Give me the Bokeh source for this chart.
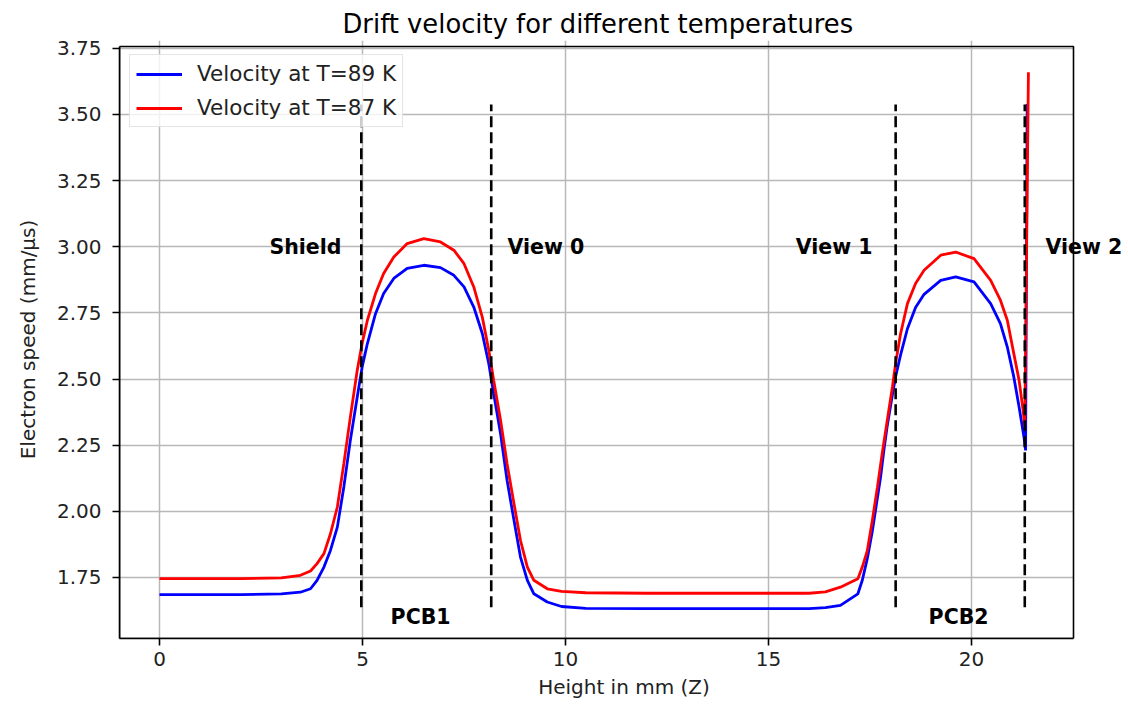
from bokeh.plotting import figure
from bokeh.models import (Range1d, Label, Legend, LegendItem, FixedTicker,
                          PrintfTickFormatter, BoxAnnotation)
from bokeh.embed import file_html
from bokeh.resources import INLINE

# ---------------- data ----------------
z_89 = [0.0, 1.0, 2.0, 3.0, 3.47, 3.72, 3.88, 4.05, 4.21, 4.38, 4.54, 4.70, 4.87, 4.99,
        5.12, 5.32, 5.52, 5.77, 6.10, 6.51, 6.92, 7.25, 7.50, 7.74, 7.95, 8.11, 8.23,
        8.40, 8.56, 8.73, 8.89, 9.06, 9.22, 9.55, 9.90, 10.5, 12.0, 14.0, 16.0, 16.4,
        16.77, 17.20, 17.31, 17.43, 17.55, 17.63, 17.76, 17.84, 17.92, 18.05, 18.13,
        18.25, 18.42, 18.62, 18.83, 19.24, 19.61, 20.06, 20.47, 20.71, 20.88, 21.04,
        21.17, 21.29, 21.33, 21.37]
v_89 = [1.685, 1.685, 1.685, 1.688, 1.694, 1.707, 1.739, 1.789, 1.852, 1.940, 2.092,
        2.268, 2.432, 2.545, 2.634, 2.747, 2.823, 2.880, 2.918, 2.930, 2.921, 2.892,
        2.848, 2.772, 2.672, 2.558, 2.445, 2.293, 2.117, 1.966, 1.827, 1.739, 1.688,
        1.657, 1.640, 1.633, 1.632, 1.632, 1.632, 1.636,
        1.644, 1.688, 1.740, 1.820, 1.920, 2.000, 2.130, 2.230, 2.320, 2.440, 2.510,
        2.590, 2.690, 2.770, 2.820, 2.873, 2.886, 2.867, 2.785, 2.709, 2.621, 2.508,
        2.394, 2.281, 2.230, 3.540]

z_87 = [0.0, 1.0, 2.0, 3.0, 3.47, 3.72, 3.88, 4.05, 4.21, 4.38, 4.54, 4.70, 4.87, 4.99,
        5.12, 5.32, 5.52, 5.77, 6.10, 6.51, 6.92, 7.25, 7.50, 7.74, 7.95, 8.11, 8.23,
        8.40, 8.56, 8.73, 8.89, 9.06, 9.22, 9.55, 9.90, 10.5, 12.0, 14.0, 16.0, 16.4,
        16.77, 17.20, 17.31, 17.43, 17.55, 17.68, 17.80, 17.92, 18.05, 18.13, 18.25,
        18.42, 18.62, 18.83, 19.24, 19.61, 20.06, 20.47, 20.71, 20.88, 21.04, 21.17,
        21.27, 21.31, 21.40]
v_87 = [1.745, 1.745, 1.745, 1.748, 1.758, 1.774, 1.802, 1.840, 1.915, 2.016, 2.180,
        2.356, 2.533, 2.634, 2.722, 2.823, 2.899, 2.961, 3.012, 3.031, 3.018, 2.987,
        2.936, 2.848, 2.734, 2.609, 2.495, 2.344, 2.180, 2.029, 1.890, 1.789, 1.739,
        1.707, 1.697, 1.692, 1.690, 1.690, 1.690, 1.695,
        1.713, 1.745, 1.790, 1.850, 1.960, 2.090, 2.220, 2.340, 2.470, 2.560, 2.670,
        2.785, 2.861, 2.911, 2.968, 2.980, 2.955, 2.873, 2.798, 2.722, 2.596, 2.495,
        2.380, 2.320, 3.660]

boundary_z = [4.97, 8.17, 18.13, 21.31]
boundary_bottom = 1.637
boundary_top = 3.538

region_names = ["Shield", "View 0", "View 1", "View 2", "PCB1", "PCB2"]
region_x = [4.48, 8.57, 17.56, 21.82, 6.43, 19.68]
region_y = [3.0, 3.0, 3.0, 3.0, 1.599, 1.599]
region_align = ["right", "left", "right", "left", "center", "center"]

x_ticks = [0, 5, 10, 15, 20]
y_ticks = [1.75, 2.0, 2.25, 2.5, 2.75, 3.0, 3.25, 3.5, 3.75]

# axes box (data limits shown inside the spines)
X_MIN, X_MAX = -0.985, 22.51
Y_MIN, Y_MAX = 1.519, 3.757

FONT = "DejaVu Sans"
PX_PER_X = 954 / (X_MAX - X_MIN)
PX_PER_Y = 592 / (Y_MAX - Y_MIN)

LEFT, TOP, BOTTOM = 119, 40, 67
frame_w = 1128 - LEFT
x_end = X_MIN + frame_w / PX_PER_X
y_end = Y_MAX + (46 - TOP) / PX_PER_Y

p = figure(width=1128, height=705, output_backend="svg", toolbar_location=None,
           x_range=Range1d(X_MIN, x_end), y_range=Range1d(Y_MIN, y_end),
           min_border_left=LEFT, min_border_right=0, min_border_top=TOP,
           min_border_bottom=BOTTOM, background_fill_color="white",
           border_fill_color="white")
p.outline_line_color = None

p.title.text = "Drift velocity for different temperatures"
p.title.align = "left"
p.title.offset = 223
p.title.text_font = FONT
p.title.text_font_size = "25.8px"
p.title.text_font_style = "normal"
p.title.text_color = "black"
p.title.standoff = 3

for ax in (p.xaxis[0], p.yaxis[0]):
    ax.axis_line_width = 1.6
    ax.axis_line_color = "black"
    ax.major_tick_line_width = 1.6
    ax.major_tick_line_color = "black"
    ax.major_tick_out = 7
    ax.major_tick_in = 0
    ax.minor_tick_out = 0
    ax.minor_tick_in = 0
    ax.major_label_text_font = FONT
    ax.major_label_text_font_size = "20px"
    ax.major_label_text_color = "#222222"
    ax.axis_label_text_font = FONT
    ax.axis_label_text_font_size = "20px"
    ax.axis_label_text_font_style = "normal"
    ax.axis_label_text_color = "#222222"

p.xaxis.bounds = (X_MIN, X_MAX)
p.yaxis.bounds = (Y_MIN, Y_MAX)
p.xaxis.ticker = FixedTicker(ticks=x_ticks)
p.yaxis.ticker = FixedTicker(ticks=y_ticks)
p.yaxis.formatter = PrintfTickFormatter(format="%.2f")
p.xaxis.major_label_standoff = 6
p.yaxis.major_label_standoff = 11
p.xaxis.axis_label = "Height in mm (Z)"
p.xaxis.axis_label_standoff = 6
p.yaxis.axis_label = "Electron speed (mm/μs)"
p.yaxis.axis_label_standoff = 14

p.xgrid.ticker = FixedTicker(ticks=x_ticks)
p.ygrid.ticker = FixedTicker(ticks=y_ticks)
for g in (p.xgrid[0], p.ygrid[0]):
    g.grid_line_color = "#b8b8b8"
    g.grid_line_width = 1.5

r89 = p.line(z_89, v_89, line_color="#0000ff", line_width=2.8)
r87 = p.line(z_87, v_87, line_color="#ff0000", line_width=2.8)

p.segment(x0=boundary_z, y0=[boundary_bottom] * len(boundary_z),
          x1=boundary_z, y1=[boundary_top] * len(boundary_z),
          line_color="black", line_width=2.6, line_dash="11 5")

# blank area right of the axes box, then the box spines
p.add_layout(BoxAnnotation(left=X_MAX, fill_color="white", fill_alpha=1.0,
                           line_color=None))
p.add_layout(BoxAnnotation(left=X_MIN, right=X_MAX, bottom=Y_MIN, top=Y_MAX,
                           fill_alpha=0.0, line_color="black", line_width=1.6,
                           line_alpha=1.0))

for name, xx, yy, al in zip(region_names, region_x, region_y, region_align):
    p.add_layout(Label(x=xx, y=yy, text=name, text_align=al,
                       text_baseline="alphabetic", text_font=FONT,
                       text_font_size="20.5px", text_font_style="bold",
                       text_color="black"))

legend = Legend(items=[LegendItem(label="Velocity at T=89 K", renderers=[r89]),
                       LegendItem(label="Velocity at T=87 K", renderers=[r87])],
                location=(10, 638 - 127))
legend.margin = 0
legend.padding = 6
legend.spacing = 9
legend.glyph_width = 46
legend.glyph_height = 20
legend.label_height = 20
legend.label_standoff = 15
legend.label_text_font = FONT
legend.label_text_font_size = "21.5px"
legend.label_text_color = "#222222"
legend.border_line_color = "#cccccc"
legend.border_line_width = 1.5
legend.background_fill_alpha = 0.8
p.add_layout(legend)

open("out.html", "w").write(file_html(p, INLINE))
